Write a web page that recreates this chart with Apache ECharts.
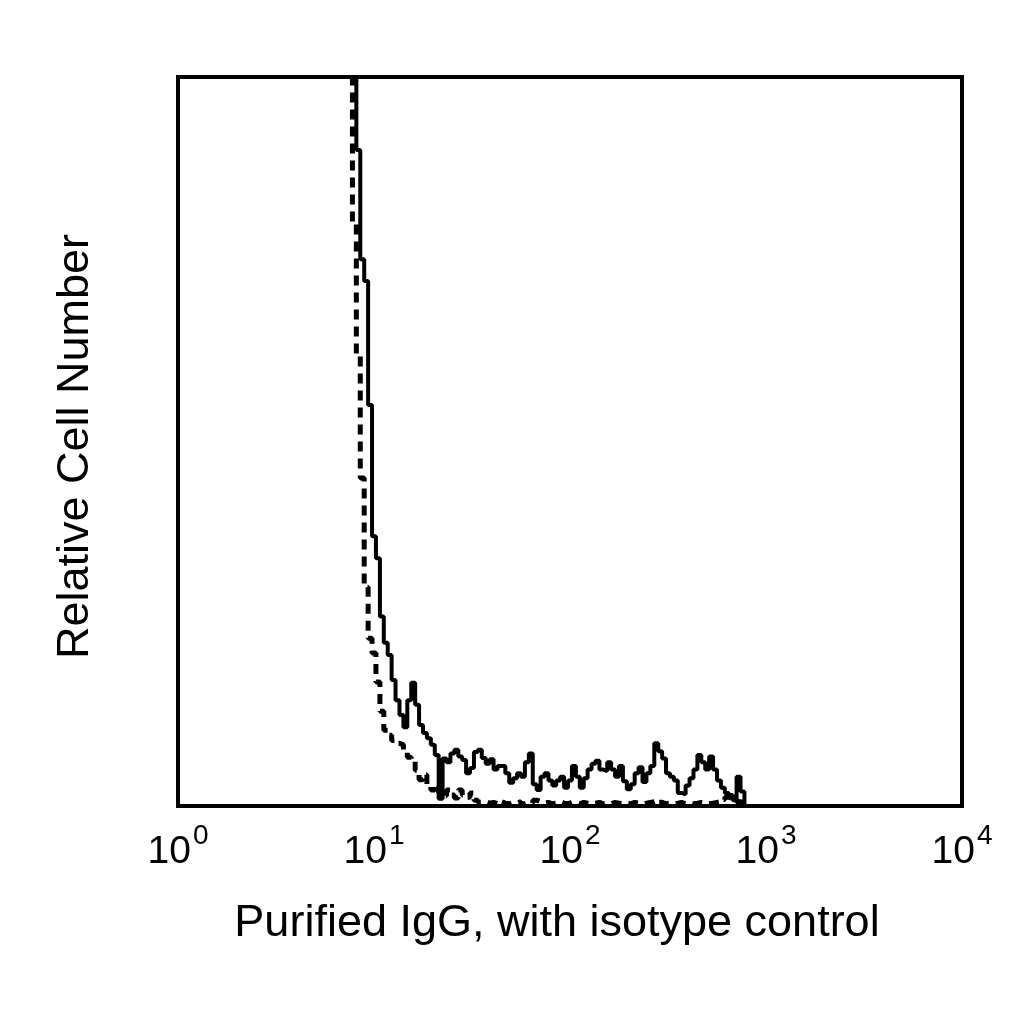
<!DOCTYPE html>
<html>
<head>
<meta charset="utf-8">
<script src="https://cdn.jsdelivr.net/npm/echarts@6/dist/echarts.min.js"></script>
<style>
  html, body { margin: 0; padding: 0; background: #fff; }
  #main { width: 1024px; height: 1024px; }
</style>
</head>
<body>
<div id="main"></div>
<script>
// bin left edges (fluorescence units)
const binEdges = [7.413, 7.762, 8.128, 8.511, 8.913, 9.333, 9.772, 10.23, 10.72, 11.22,
  11.75, 12.30, 12.88, 13.49, 14.13, 14.79, 15.49, 16.22, 16.98, 17.78,
  18.62, 19.50, 20.42, 21.38, 22.39, 23.44, 24.55, 25.70, 26.92, 28.18,
  29.51, 30.90, 32.36, 33.88, 35.48, 37.15, 38.90, 40.74, 42.66, 44.67,
  46.77, 48.98, 51.29, 53.70, 56.23, 58.88, 61.66, 64.57, 67.61, 70.79,
  74.13, 77.62, 81.28, 85.11, 89.13, 93.33, 97.72, 102.3, 107.2, 112.2,
  117.5, 123.0, 128.8, 134.9, 141.3, 147.9, 154.9, 162.2, 169.8, 177.8,
  186.2, 195.0, 204.2, 213.8, 223.9, 234.4, 245.5, 257.0, 269.2, 281.8,
  295.1, 309.0, 323.6, 338.8, 354.8, 371.5, 389.0, 407.4, 426.6, 446.7,
  467.7, 489.8, 512.9, 537.0, 562.3, 588.8, 616.6, 645.7, 676.1, 707.9,
  741.3, 776.2, 812.8, 851.1];

// purified IgG (solid line), relative counts per bin
const igGCounts = [null, 130, 90, 75, 72, 55, 37, 34, 26, 22.4,
  20.7, 17.3, 14.5, 12.5, 10.8, 14.5, 16.9, 13.9, 11.1, 10.0,
  9.3, 8.4, 7.0, 1.0, 6.5, 6.0, 7.2, 7.7, 6.8, 6.3,
  4.5, 5.2, 7.4, 7.7, 6.6, 5.8, 6.4, 5.0, 5.5, 5.5,
  4.5, 3.2, 3.8, 4.5, 4.0, 6.0, 7.2, 3.0, 2.2, 4.0,
  4.5, 3.5, 2.8, 3.5, 4.0, 2.5, 3.5, 5.5, 4.0, 2.5,
  3.8, 5.0, 5.8, 6.2, 5.0, 4.8, 6.0, 5.0, 4.0, 5.5,
  3.4, 2.3, 3.0, 4.5, 5.3, 3.3, 4.5, 5.5, 8.6, 7.5,
  6.5, 4.5, 4.0, 3.5, 1.8, 1.6, 2.8, 3.8, 5.0, 7.0,
  6.0, 5.0, 6.8, 5.0, 3.5, 2.5, 1.8, 1.5, 0.8, 4.0,
  2.0, 0];

// isotype control (dashed line)
const isotypeCounts = [130, 80, 62, 45, 30, 23, 21, 17, 13, 10.4,
  9.7, 9.0, 8.6, 8.4, 7.7, 6.7, 6.3, 4.9, 3.6, 4.3,
  2.9, 2.2, 2.9, 1.8, 1.4, 2.2, 1.5, 1.1, 2.2, 1.5,
  1.2, 1.8, 0.8, 0.5, 0.6, 0.4, 0.5, 0.3, 0.6, 0.4,
  0.3, 0.5, 0.4, 0.6, 0.3, 0.5, 0.4, 0.8, 0.6, 0.4,
  0.5, 0.3, 0.4, 0.6, 0.4, 0.3, 0.5, 0.4, 0.3, 0.5,
  0.4, 0.3, 0.4, 0.5, 0.3, 0.4, 0.3, 0.5, 0.4, 0.3,
  0.4, 0.3, 0.5, 0.4, 0.3, 0.4, 0.5, 0.6, 0.8, 0.5,
  0.3, 0.4, 0.3, 0.4, 0.5, 0.3, 0.4, 0.3, 0.4, 0.5,
  0.4, 0.3, 0.4, 0.5, 0.6, 0.9, 1.2, 1.0, 1.2, 0.6,
  0.4, 0];

const xTickExponents = ['0', '1', '2', '3', '4'];
const xTitle = 'Purified IgG, with isotype control';
const yTitle = 'Relative Cell Number';

function toPairs(counts) {
    let out = [];
    counts.forEach((c, i) => {
        if (c !== null) out.push([binEdges[i], c]);
    });
    return out;
}

let myChart = echarts.init(document.getElementById('main'));

let option = {
    animation: false,
    backgroundColor: '#fff',
    grid: {
        left: 178, right: 62, top: 77, bottom: 218,
        show: true,
        borderColor: '#000',
        borderWidth: 4,
        backgroundColor: 'transparent'
    },
    xAxis: {
        type: 'log',
        logBase: 10,
        min: 1,
        max: 10000,
        axisLine: { show: false },
        axisTick: { show: false },
        splitLine: { show: false },
        axisLabel: {
            margin: 26,
            formatter: function (v) {
                let e = Math.round(Math.log10(v));
                return '{b|10}{s|' + xTickExponents[e] + '}';
            },
            rich: {
                b: { fontSize: 39, fontFamily: 'Liberation Sans Narrow, Liberation Sans', color: '#000', lineHeight: 40, verticalAlign: 'bottom' },
                s: { fontSize: 28, fontFamily: 'Liberation Sans Narrow, Liberation Sans', color: '#000', lineHeight: 18, verticalAlign: 'bottom', padding: [0, 0, 22, 2] }
            }
        },
        name: xTitle,
        nameLocation: 'middle',
        nameGap: 95,
        nameTextStyle: { fontSize: 45, fontFamily: 'Liberation Sans', color: '#000', padding: [0, 26, 0, 0] }
    },
    yAxis: {
        type: 'value',
        min: 0,
        max: 100,
        axisLine: { show: false },
        axisTick: { show: false },
        axisLabel: { show: false },
        splitLine: { show: false },
        name: yTitle,
        nameLocation: 'middle',
        nameGap: 80,
        nameTextStyle: { fontSize: 45, fontFamily: 'Liberation Sans', color: '#000', padding: [0, 10, 0, 0] }
    },
    series: [
        {
            name: 'isotype',
            type: 'line',
            step: 'end',
            showSymbol: false,
            clip: true,
            data: toPairs(isotypeCounts),
            lineStyle: { color: '#000', width: 5, type: [10, 7] }
        },
        {
            name: 'IgG',
            type: 'line',
            step: 'end',
            showSymbol: false,
            clip: true,
            data: toPairs(igGCounts),
            lineStyle: { color: '#000', width: 4 }
        }
    ]
};
myChart.setOption(option);
</script>
</body>
</html>
